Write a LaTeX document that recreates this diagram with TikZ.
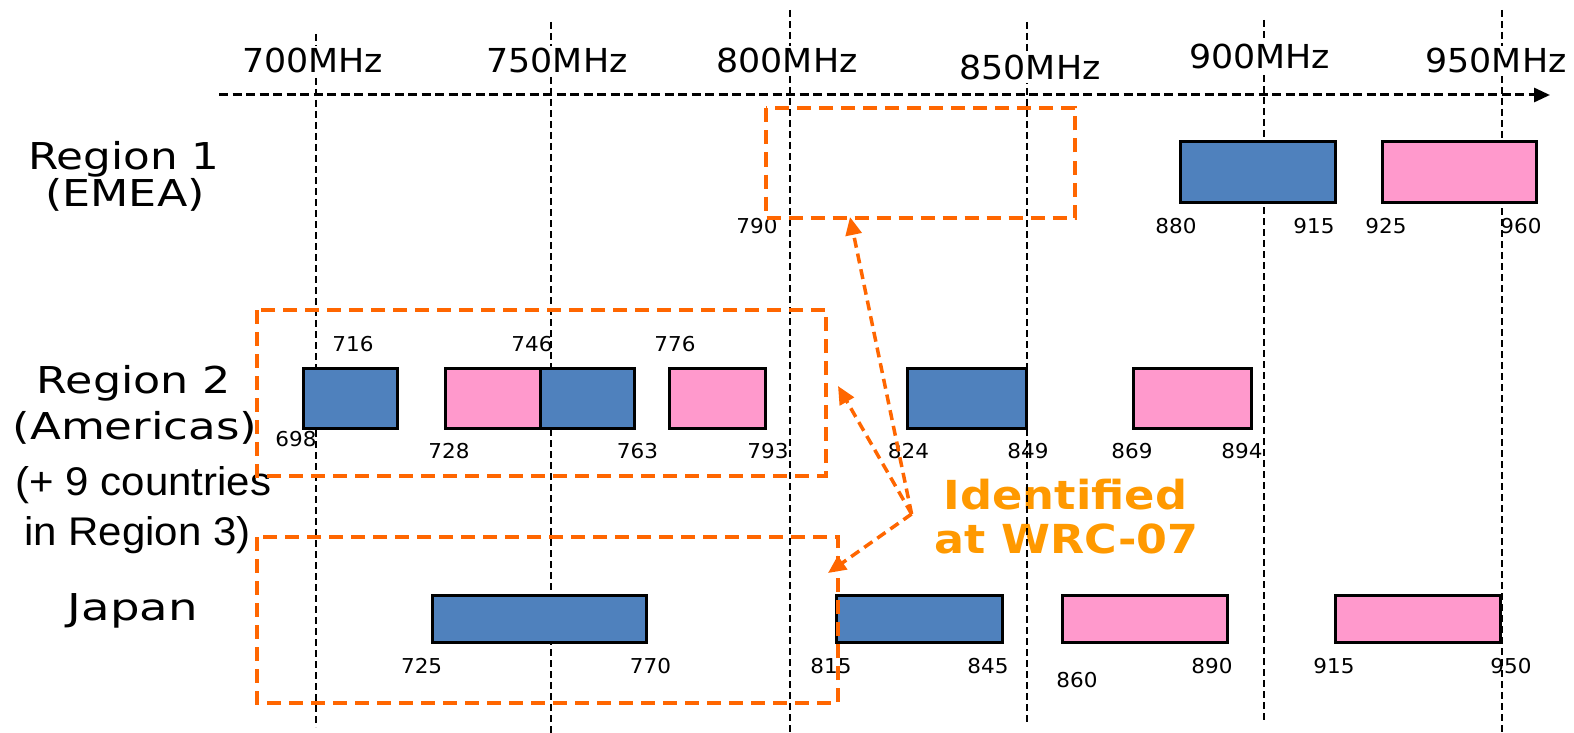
\documentclass[tikz,border=0pt]{standalone}
\usepackage{fontspec}
\setmainfont{DejaVu Sans}
\newfontfamily\arialf{Liberation Sans}
\usetikzlibrary{arrows.meta}
\definecolor{blueA}{HTML}{4F81BD}
\definecolor{pinkA}{HTML}{FF99CC}
\definecolor{orA}{HTML}{FF6600}
\definecolor{orT}{HTML}{FF9900}
\newcommand\hs[2]{\scalebox{#1}[1]{#2}}
\begin{document}
\begin{tikzpicture}[x=1pt,y=-1pt,
 gridl/.style={black, line width=2pt, dash pattern=on 7pt off 4pt},
 axisl/.style={black, line width=3pt, dash pattern=on 9pt off 4.5pt, -{Triangle[length=16pt,width=14pt]}},
 obox/.style={draw=orA, line width=4pt, dash pattern=on 14pt off 8pt},
 oarr/.style={orA, line width=3.5pt, dash pattern=on 10pt off 6pt, -{Triangle[length=18pt,width=16pt]}},
 band/.style={draw=black, line width=3pt},
 num/.style={anchor=base, inner sep=0pt, font=\fontsize{20.5}{24}\selectfont},
 mhz/.style={anchor=base, fill=white, inner sep=3pt, font=\fontsize{33}{38}\selectfont},
 reg/.style={anchor=base, inner sep=0pt, font=\fontsize{37}{42}\selectfont},
 arl/.style={anchor=base, inner sep=0pt, font=\arialf\fontsize{40}{46}\selectfont},
 idt/.style={anchor=base, inner sep=0pt, text=orT, font=\fontsize{40}{46}\selectfont\bfseries},
]
\useasboundingbox (0,0) rectangle (1574,733);

% Identified label (under the grid lines)
\node[idt] (id1) at (1065.5,509) {\hs{1.12}{Identified}};
\node[idt] (id2) at (1066.5,553) {\hs{1.11}{at WRC-07}};

% grid lines
\draw[gridl] (316,34) -- (316,727);
\draw[gridl] (551,22) -- (551,733);
\draw[gridl] (790,10) -- (790,733);
\draw[gridl] (1027,22) -- (1027,722);
\draw[gridl] (1264,20) -- (1264,722);
\draw[gridl] (1502,10) -- (1502,733);

% axis
\coordinate (axs) at (219,95);
\coordinate (axe) at (1550,95);
\draw[axisl] (axs) -- (axe);

% MHz labels
\node[mhz] (m700) at (312.5,73) {\hs{1.055}{700MHz}};
\node[mhz] (m750) at (557,73) {\hs{1.055}{750MHz}};
\node[mhz] (m800) at (787,73) {\hs{1.055}{800MHz}};
\node[mhz] (m850) at (1030,80) {\hs{1.055}{850MHz}};
\node[mhz] (m900) at (1259.5,69) {\hs{1.055}{900MHz}};
\node[mhz] (m950) at (1496,73) {\hs{1.055}{950MHz}};

% row labels
\node[reg] (r1a) at (124,169) {\hs{1.18}{Region 1}};
\node[reg] (r1b) at (125,206) {\hs{1.2}{(EMEA)}};
\node[reg] (r2a) at (134,393) {\hs{1.2}{Region 2}};
\node[reg] (r2b) at (135,439) {\hs{1.22}{(Americas)}};
\node[arl] (r3a) at (143.5,495) {\hs{1.05}{(+ 9 countries}};
\node[arl] (r3b) at (137.5,545) {\hs{1.05}{in Region 3)}};
\node[reg] (jp) at (133,620) {\hs{1.26}{Japan}};

% Region 1 bands
\draw[band, fill=blueA] (1180,142) rectangle (1335,202);
\draw[band, fill=pinkA] (1382,142) rectangle (1536,202);
% Region 2 bands
\draw[band, fill=blueA] (303,368.5) rectangle (397.5,428.7);
\draw[band, fill=pinkA] (445,368.5) rectangle (540,428.7);
\draw[band, fill=blueA] (540,368.5) rectangle (634.5,428.7);
\draw[band, fill=pinkA] (669.5,368.5) rectangle (765,428.7);
\draw[band, fill=blueA] (907.5,368.5) rectangle (1026,428.7);
\draw[band, fill=pinkA] (1133,368.5) rectangle (1251,428.7);
% Japan bands
\draw[band, fill=blueA] (432.6,595) rectangle (646.5,642.5);
\draw[band, fill=blueA] (836,595) rectangle (1002,642.5);
\draw[band, fill=pinkA] (1062,595) rectangle (1227,642.5);
\draw[band, fill=pinkA] (1335,595) rectangle (1500,642.5);

% numbers
\node[num] (n790) at (757,233) {\hs{1.05}{790}};
\node[num] (n880) at (1176,233) {\hs{1.05}{880}};
\node[num] (n915a) at (1314,233) {\hs{1.05}{915}};
\node[num] (n925) at (1386,233) {\hs{1.05}{925}};
\node[num] (n960) at (1521,233) {\hs{1.05}{960}};

\node[num] (n716) at (353,351) {\hs{1.05}{716}};
\node[num] (n746) at (532,351) {\hs{1.05}{746}};
\node[num] (n776) at (675,351) {\hs{1.05}{776}};
\node[num] (n698) at (296,446) {\hs{1.05}{698}};
\node[num] (n728) at (449,458.5) {\hs{1.05}{728}};
\node[num] (n763) at (637.5,458.5) {\hs{1.05}{763}};
\node[num] (n793) at (768,458.5) {\hs{1.05}{793}};
\node[num] (n824) at (908.5,458.5) {\hs{1.05}{824}};
\node[num] (n849) at (1028,458.5) {\hs{1.05}{849}};
\node[num] (n869) at (1132,458.5) {\hs{1.05}{869}};
\node[num] (n894) at (1242,458.5) {\hs{1.05}{894}};

\node[num] (n725) at (421.6,673.5) {\hs{1.05}{725}};
\node[num] (n770) at (650.5,673.5) {\hs{1.05}{770}};
\node[num] (n815) at (831,673.5) {\hs{1.05}{815}};
\node[num] (n845) at (988,673.5) {\hs{1.05}{845}};
\node[num] (n860) at (1077,687) {\hs{1.05}{860}};
\node[num] (n890) at (1212,673.5) {\hs{1.05}{890}};
\node[num] (n915b) at (1334,673.5) {\hs{1.05}{915}};
\node[num] (n950) at (1511,673.5) {\hs{1.05}{950}};

% orange dashed frames
\draw[obox] (766,108.5) rectangle (1075,218);
\draw[obox] (257,310) rectangle (826,476);
\draw[obox] (257,537) rectangle (838,703);

% arrows
\coordinate (src) at (911.6,514);
\coordinate (t1) at (850,217);
\coordinate (t2) at (838,386);
\coordinate (t3) at (828,573);
\draw[oarr] (src) -- (t1);
\draw[oarr] (src) -- (t2);
\draw[oarr] (src) -- (t3);
\end{tikzpicture}
\end{document}
